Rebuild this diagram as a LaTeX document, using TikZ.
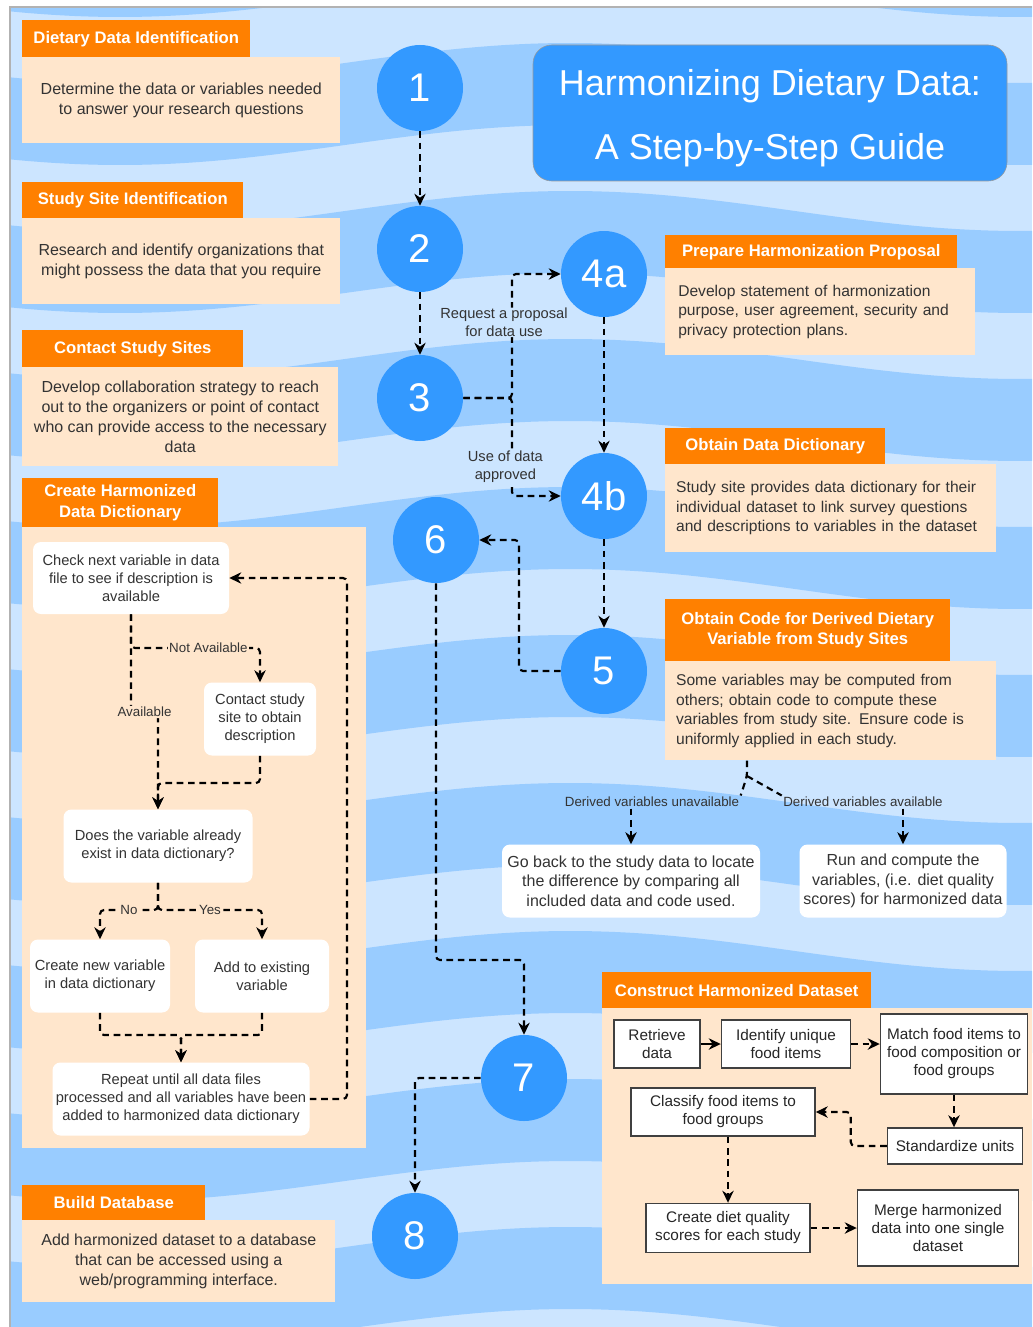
\documentclass[tikz,border=0pt]{standalone}
\usepackage{fontspec}
\setmainfont{Liberation Sans}
\usetikzlibrary{arrows.meta}
\definecolor{bglight}{HTML}{CCE5FF}
\definecolor{bgdark}{HTML}{99CCFF}
\definecolor{stepblue}{HTML}{3399FF}
\definecolor{hdorange}{HTML}{FF8000}
\definecolor{peach}{HTML}{FFE6CC}
\definecolor{txtgray}{HTML}{333333}
\tikzstyle{stepno} = [circle, fill=stepblue, text=white, minimum size=64.5pt, inner sep=0pt, font=\fontsize{30}{36}\selectfont]
\tikzstyle{head} = [rectangle, anchor=north west, fill=hdorange, text=white, inner sep=0pt, align=center, font=\bfseries\fontsize{12.5}{15.5}\selectfont]
\tikzstyle{info} = [rectangle, anchor=north west, fill=peach, text=txtgray, inner sep=0pt, align=center, font=\fontsize{12}{15}\selectfont]
\tikzstyle{infoleft} = [info, align=left, font=\fontsize{11.7}{14.6}\selectfont]
\tikzstyle{wbox} = [rectangle, rounded corners=6pt, fill=white, text=txtgray, inner sep=0pt, align=center, font=\fontsize{11}{13.5}\selectfont]
\tikzstyle{fbox} = [rectangle, draw=black!75, line width=1.1pt, fill=white, text=black!85, inner sep=0pt, align=center, font=\fontsize{11.5}{13.5}\selectfont]
\tikzstyle{lbl} = [text=txtgray, inner sep=1pt, align=center, font=\fontsize{10}{12.5}\selectfont]
\tikzstyle{biglbl} = [lbl, inner sep=0pt, font=\fontsize{11}{14}\selectfont]
\tikzstyle{dline} = [line width=1.6pt, dash pattern=on 5pt off 3.5pt, rounded corners=3pt]
\tikzstyle{arrow} = [dline, ->, >={Stealth[length=9pt, width=8.5pt]}]
\tikzstyle{sarrow} = [line width=1.6pt, ->, >={Stealth[length=9pt, width=8.5pt]}]
\tikzset{sz/.style 2 args={minimum width=#1*0.75pt, minimum height=#2*0.75pt}}

\begin{document}
\begin{tikzpicture}[x=0.75pt, y=-0.75pt]
\useasboundingbox (0,0) rectangle (1032,1327);
\fill[white] (0,0) rectangle (1032,1327);

% wavy background
\begin{scope}
\clip (10,7) rectangle (1032,1327);
\fill[bglight] (10,7) rectangle (1032,1327);
\foreach \b in {-85,63,...,1395}
  \fill[bgdark] plot[domain=0:1040, samples=40, smooth] (\x, {\b + 20*cos((\x-120)*0.4)})
    -- plot[domain=1040:0, samples=40, smooth] (\x, {\b + 82 + 20*cos((\x-120)*0.4)}) -- cycle;
\end{scope}
\draw[gray!60, line width=1pt] (10,1327) -- (10,7) -- (1032,7);

\node (title) [rectangle, rounded corners=14pt, draw=gray!80, fill=stepblue, text=white, sz={474}{136}, align=center, font=\fontsize{27}{48}\selectfont] at (770,113) {\rule{0pt}{28pt}Harmonizing Dietary Data:\\A Step-by-Step Guide};

% left column
\node (h1) [head, sz={228}{37}] at (22,20) {Dietary Data Identification};
\node (b1) [info, sz={318}{86}] at (22,57) {Determine the data or variables needed\\to answer your research questions};
\node (h2) [head, sz={221}{36}] at (22,182) {Study Site Identification};
\node (b2) [info, sz={318}{86}] at (22,218) {Research and identify organizations that\\might possess the data that you require};
\node (h3) [head, sz={221}{37}] at (22,330) {Contact Study Sites};
\node (b3) [info, sz={316}{99}] at (22,367) {Develop collaboration strategy to reach\\out to the organizers or point of contact\\who can provide access to the necessary\\data};
\node (h4) [head, sz={196}{49}] at (22,478) {Create Harmonized\\Data Dictionary};
\node (b4) [info, sz={344}{621}] at (22,527) {};
\node (h8) [head, sz={183}{35}] at (22,1185) {Build Database};
\node (b8) [info, sz={313}{82}] at (22,1220) {Add harmonized dataset to a database\\that can be accessed using a\\web/programming interface.};

% dictionary flow
\node (chk) [wbox, sz={196}{72}] at (131,578) {Check next variable in data\\file to see if description is\\available};
\node (contact) [wbox, sz={112}{73}] at (260,719) {Contact study\\site to obtain\\description};
\node (exists) [wbox, sz={189}{73}] at (158,846) {Does the variable already\\exist in data dictionary?};
\node (newvar) [wbox, sz={140}{73}] at (100,976) {Create new variable\\in data dictionary};
\node (addvar) [wbox, sz={134}{73}] at (262,976) {Add to existing\\variable};
\node (repeat) [wbox, sz={257}{73}] at (181,1099) {Repeat until all data files\\processed and all variables have been\\added to harmonized data dictionary};

% steps
\node (s1) [stepno] at (420,88) {1};
\node (s2) [stepno] at (420,249) {2};
\node (s3) [stepno] at (420,398) {3};
\node (s4a) [stepno] at (604,274) {4a};
\node (s4b) [stepno] at (604,496) {4b};
\node (s5) [stepno] at (604,671) {5};
\node (s6) [stepno] at (436,540) {6};
\node (s7) [stepno] at (524,1078) {7};
\node (s8) [stepno] at (415,1236) {8};

% right column
\node (h4a) [head, sz={292}{33}] at (665,235) {Prepare Harmonization Proposal};
\node (b4a) [infoleft, sz={310}{87}, text width=213pt] at (665,268) {Develop statement of harmonization\\purpose, user agreement, security and\\privacy protection plans.};
\node (h4b) [head, sz={220}{36}] at (665,428) {Obtain Data Dictionary};
\node (b4b) [infoleft, sz={331}{88}, text width=232pt] at (665,464) {Study site provides data dictionary for their\\individual dataset to link survey questions\\and descriptions to variables in the dataset};
\node (h5) [head, sz={285}{62}] at (665,599) {Obtain Code for Derived Dietary\\Variable from Study Sites};
\node (b5) [infoleft, sz={331}{99}, text width=232pt] at (665,661) {Some variables may be computed from\\others; obtain code to compute these\\variables from study site. Ensure code is\\uniformly applied in each study.};

\coordinate (split) at (747,776);
\node (lblU) [lbl] at (652,802) {Derived variables unavailable};
\node (lblA) [lbl] at (863,802) {Derived variables available};
\node (goback) [wbox, sz={258}{73}, font=\fontsize{12}{14.6}\selectfont] at (631,881) {Go back to the study data to locate\\the difference by comparing all\\included data and code used.};
\node (run) [wbox, sz={207}{73}, font=\fontsize{12}{14.6}\selectfont] at (903,881) {Run and compute the\\variables, (i.e. diet quality\\scores) for harmonized data};

% construct dataset
\node (h7) [head, sz={269}{36}] at (602,972) {Construct Harmonized Dataset};
\node (b7) [info, sz={430}{276}] at (602,1008) {};
\node (retrieve) [fbox, sz={86}{48}] at (657,1044) {Retrieve\\data};
\node (identify) [fbox, sz={129}{48}] at (786,1044) {Identify unique\\food items};
\node (match) [fbox, sz={147}{80}] at (954,1054) {Match food items to\\food composition or\\food groups};
\node (classify) [fbox, sz={184}{48}] at (723,1112) {Classify food items to\\food groups};
\node (stdunits) [fbox, sz={135}{36}] at (955,1146) {Standardize units};
\node (dietq) [fbox, sz={164}{49}] at (728,1228) {Create diet quality\\scores for each study};
\node (merge) [fbox, sz={161}{76}] at (938,1228) {Merge harmonized\\data into one single\\dataset};

% main connectors
\draw [arrow] (s1) -- (s2);
\draw [arrow] (s2) -- (s3);
\draw [arrow] (s3.east) -- (s3.east -| 512,0) -- node[biglbl, pos=0.61, xshift=-6pt, fill=bglight] {Request a proposal\\for data use} (s4a.west -| 512,0) -- (s4a.west);
\draw [arrow] (s3.east) -- (s3.east -| 512,0) -- node[biglbl, pos=0.70, xshift=-5pt, fill=bglight] {Use of data\\approved} (s4b.west -| 512,0) -- (s4b.west);
\draw [arrow] (s4a) -- (s4b);
\draw [arrow] (s4b) -- (s5);
\draw [arrow] (s5.west) -- (s5.west -| 519,0) -- (s6.east -| 519,0) -- (s6.east);
\draw [arrow] (s6.south) -- (s6.south |- 0,960) -- (s7.north |- 0,960) -- (s7.north);
\draw [arrow] (s7.west) -- (s7.west -| s8.north) -- (s8.north);

\draw [dline] (b5.south -| split) -- (split) -- (lblU.north east);
\draw [arrow] (lblU.south -| goback.north) -- (goback.north);
\draw [dline] (split) -- (lblA.north west);
\draw [arrow] (lblA.south -| run.north) -- (run.north);

% dictionary connectors
\draw [arrow] (chk.south) -- (chk.south |- 0,648) -- node[lbl, pos=0.6, fill=peach] {Not Available} (contact.north |- 0,648) -- (contact.north);
\draw [arrow] (chk.south) -- (chk.south |- 0,712) -- node[lbl, fill=peach] {Available} (exists.north |- 0,712) -- (exists.north);
\draw [arrow] (contact.south) -- (contact.south |- 0,783) -- (exists.north |- 0,783) -- (exists.north);
\draw [arrow] (exists.south) -- (exists.south |- 0,910) -- node[lbl, fill=peach] {No} (newvar.north |- 0,910) -- (newvar.north);
\draw [arrow] (exists.south) -- (exists.south |- 0,910) -- node[lbl, fill=peach] {Yes} (addvar.north |- 0,910) -- (addvar.north);
\draw [arrow] (newvar.south) -- (newvar.south |- 0,1035) -- (repeat.north |- 0,1035) -- (repeat.north);
\draw [arrow] (addvar.south) -- (addvar.south |- 0,1035) -- (repeat.north |- 0,1035) -- (repeat.north);
\draw [arrow] (repeat.east) -- (repeat.east -| 347,0) -- (chk.east -| 347,0) -- (chk.east);

% dataset connectors
\draw [sarrow] (retrieve) -- (identify);
\draw [arrow] (identify.east) -- (identify.east -| match.west);
\draw [arrow] (match.south) -- (match.south |- stdunits.north);
\draw [arrow] (stdunits.west) -- ++(-36,0) |- (classify.east);
\draw [arrow] (classify.south -| dietq.north) -- (dietq.north);
\draw [arrow] (dietq.east) -- (dietq.east -| merge.west);

\end{tikzpicture}
\end{document}
